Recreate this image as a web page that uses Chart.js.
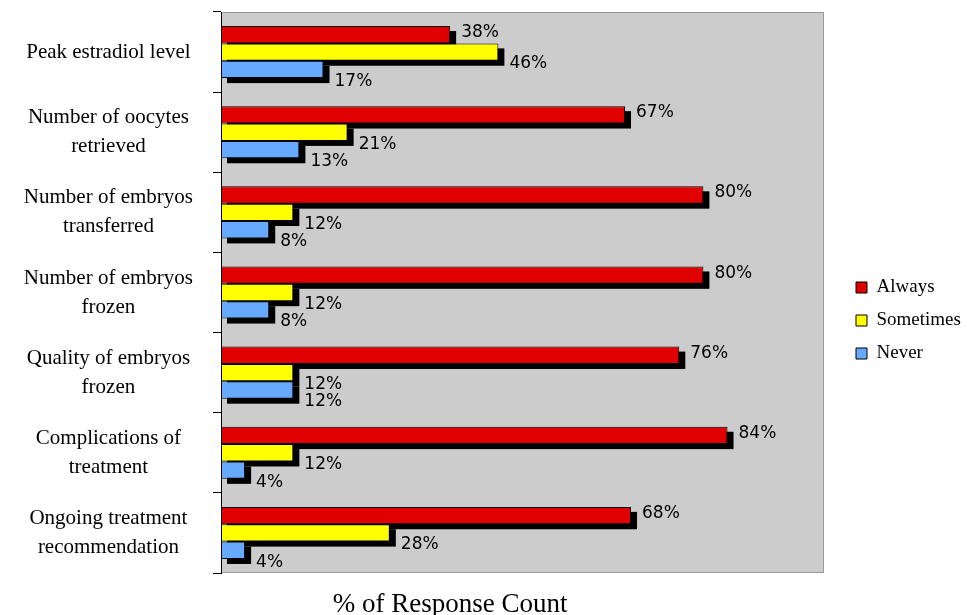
<!DOCTYPE html>
<html>
<head>
<meta charset="utf-8">
<script src="https://cdn.jsdelivr.net/npm/chart.js@4.4.1/dist/chart.umd.min.js"></script>
<style>
  html, body { margin: 0; padding: 0; background: #fff; }
  #wrap { width: 967px; height: 615px; position: relative; }
</style>
</head>
<body>
<div id="wrap"><canvas id="chartResp"></canvas></div>
<script>
const categories = [
  "Peak estradiol level",
  ["Number of oocytes", "retrieved"],
  ["Number of embryos", "transferred"],
  ["Number of embryos", "frozen"],
  ["Quality of embryos", "frozen"],
  ["Complications of", "treatment"],
  ["Ongoing treatment", "recommendation"],
];
const always = [38, 67, 80, 80, 76, 84, 68];
const sometimes = [46, 21, 12, 12, 12, 12, 28];
const never = [17, 13, 8, 8, 12, 4, 4];
const seriesNames = ["Always", "Sometimes", "Never"];
const axisTitle = "% of Response Count";

// gray plot area with a thin border
const plotBg = {
  id: "plotBg",
  beforeDraw(chart) {
    const { ctx, chartArea: a } = chart;
    ctx.save();
    ctx.fillStyle = "#cccccc";
    ctx.fillRect(a.left, a.top, a.right - a.left, a.bottom - a.top);
    ctx.strokeStyle = "#999999";
    ctx.lineWidth = 1;
    ctx.strokeRect(a.left + 0.5, a.top + 0.5, a.right - a.left - 1, a.bottom - a.top - 1);
    ctx.restore();
  },
};

// black drop shadow under each bar
const barShadow = {
  id: "barShadow",
  beforeDatasetsDraw(chart) {
    const ctx = chart.ctx;
    ctx.save();
    ctx.fillStyle = "#000";
    chart.data.datasets.forEach((ds, i) => {
      chart.getDatasetMeta(i).data.forEach((bar) => {
        const left = Math.min(bar.x, bar.base);
        const w = Math.abs(bar.x - bar.base);
        ctx.fillRect(left + 6, bar.y - bar.height / 2 + 5, w, bar.height);
      });
    });
    ctx.restore();
  },
};

// value labels to the right of the bars
const labelDy = [-2, 12, 12];
const valueLabels = {
  id: "valueLabels",
  afterDatasetsDraw(chart) {
    const ctx = chart.ctx;
    ctx.save();
    ctx.fillStyle = "#000";
    ctx.font = '17px "DejaVu Sans"';
    ctx.textAlign = "left";
    ctx.textBaseline = "middle";
    chart.data.datasets.forEach((ds, i) => {
      chart.getDatasetMeta(i).data.forEach((bar, j) => {
        ctx.fillText(ds.data[j] + "%", bar.x + 11, bar.y + labelDy[i]);
      });
    });
    ctx.restore();
  },
};

// axis title under the plot
const xTitle = {
  id: "xTitle",
  afterDraw(chart) {
    const { ctx, chartArea: a } = chart;
    ctx.save();
    ctx.fillStyle = "#000";
    ctx.font = '27px "Liberation Serif"';
    ctx.textAlign = "center";
    ctx.textBaseline = "middle";
    ctx.fillText(axisTitle, a.left + (a.right - a.left) * 0.38, chart.height - 10);
    ctx.restore();
  },
};

document.addEventListener("DOMContentLoaded", () => {
  new Chart(document.querySelector("#chartResp"), {
    type: "bar",
    data: {
      labels: categories,
      datasets: [
        { label: seriesNames[0], data: always, backgroundColor: "#e00000", xAxisID: "x", yAxisID: "y" },
        { label: seriesNames[1], data: sometimes, backgroundColor: "#ffff00", xAxisID: "x", yAxisID: "y" },
        { label: seriesNames[2], data: never, backgroundColor: "#66aaff", xAxisID: "x", yAxisID: "y" },
      ],
    },
    options: {
      indexAxis: "y",
      responsive: true,
      maintainAspectRatio: false,
      animation: false,
      datasets: {
        bar: {
          borderColor: "#000",
          borderWidth: 1,
          borderSkipped: false,
          categoryPercentage: 0.65,
          barPercentage: 1,
        },
      },
      layout: { padding: { top: 12, bottom: 42, left: 0, right: 0 } },
      scales: {
        x: { min: 0, max: 100, display: false },
        y: {
          type: "category",
          grid: {
            display: true,
            drawOnChartArea: false,
            drawTicks: true,
            tickLength: 8,
            color: "#000",
            offset: true,
          },
          border: { display: true, color: "#000", width: 1 },
          ticks: {
            color: "#000",
            crossAlign: "center",
            padding: 20,
            font: { family: "Liberation Serif", size: 21, lineHeight: 1.38 },
          },
          afterFit(s) {
            s.width = 221;
            s.paddingTop = 0;
            s.paddingBottom = 0;
          },
        },
        gap: {
          type: "linear",
          axis: "y",
          position: "right",
          grid: { display: false },
          ticks: { display: false },
          border: { display: false },
          afterFit(s) {
            s.width = 18;
            s.paddingTop = 0;
            s.paddingBottom = 0;
          },
        },
      },
      plugins: {
        tooltip: { enabled: false },
        legend: {
          position: "right",
          maxWidth: 125,
          title: { display: true, text: "", font: { size: 10 }, padding: { top: 22, bottom: 22 } },
          labels: {
            boxWidth: 11,
            boxHeight: 11,
            padding: 14,
            color: "#000",
            font: { family: "Liberation Serif", size: 19 },
          },
        },
      },
    },
    plugins: [plotBg, barShadow, valueLabels, xTitle],
  });
});
</script>
</body>
</html>
